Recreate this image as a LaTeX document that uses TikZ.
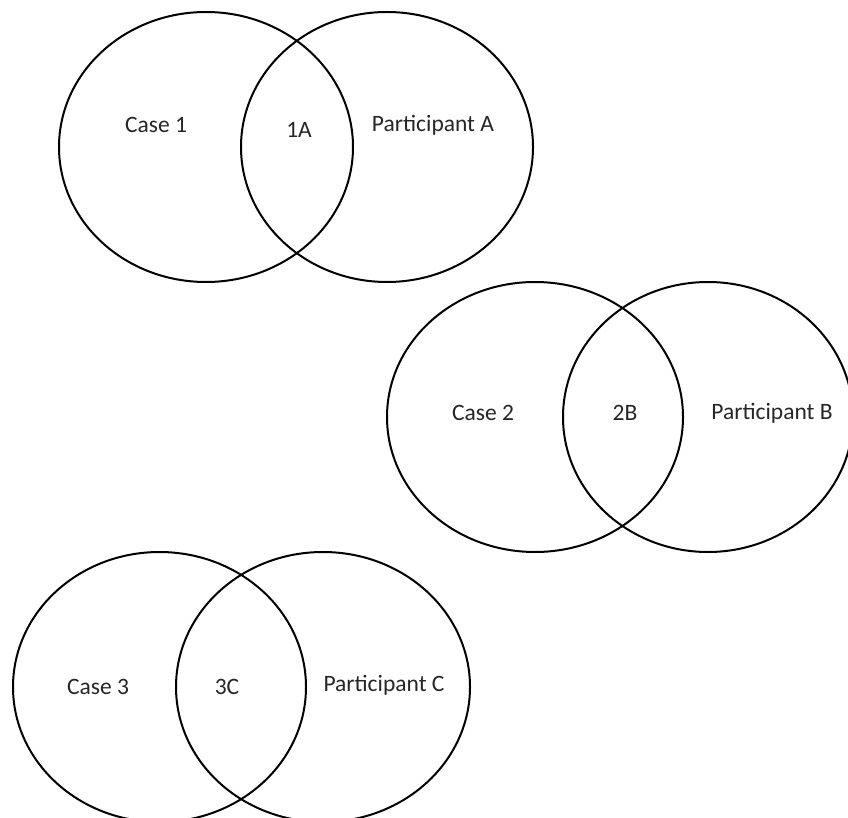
\documentclass[tikz,border=0pt]{standalone}
\usepackage{fontspec}
\setmainfont{Carlito}
\usetikzlibrary{shapes.geometric}
\tikzset{
  venn/.style={ellipse, draw=black, line width=2pt, inner sep=0pt, minimum width=#1, minimum height=270pt},
  lbl/.style={font=\fontsize{23.5}{28}\selectfont, text=black!85, inner sep=0pt}
}
\begin{document}
\begin{tikzpicture}[x=1pt,y=-1pt]
\useasboundingbox (0,0) rectangle (848,818);
% pair 1
\node[venn=294pt] (c1) at (206,147) {};
\node[venn=292pt] (pA) at (387,147) {};
\node[lbl] (t1) at (156,125) {Case 1};
\node[lbl] (t1A) at (299,130) {1A};
\node[lbl] (tA) at (433,125) {Participant A};
% pair 2
\node[venn=296pt] (c2) at (535,417) {};
\node[venn=290pt] (pB) at (708,417) {};
\node[lbl] (t2) at (483,413) {Case 2};
\node[lbl] (t2B) at (625,413) {2B};
\node[lbl] (tB) at (772,413) {Participant B};
% pair 3
\node[venn=293pt] (c3) at (159.5,687) {};
\node[venn=294pt] (pC) at (323,687) {};
\node[lbl] (t3) at (98,687) {Case 3};
\node[lbl] (t3C) at (227,687) {3C};
\node[lbl] (tC) at (384,685) {Participant C};
\end{tikzpicture}
\end{document}
